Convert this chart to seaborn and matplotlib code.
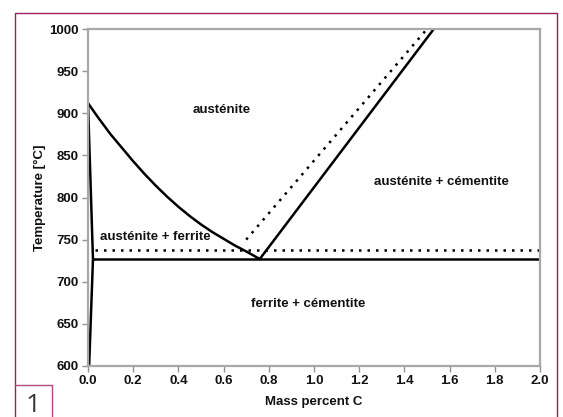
import matplotlib
matplotlib.use("Agg")
import matplotlib.pyplot as plt
from matplotlib.lines import Line2D
import pandas as pd
import seaborn as sns

# Phase boundaries of the Fe–C diagram (mass % C, temperature in °C)
ferrite_x = [0.005, 0.022, 0.0]
ferrite_T = [600, 727, 912]

a3_x = [0.0, 0.05, 0.1, 0.15, 0.2, 0.25, 0.3, 0.35, 0.4, 0.45, 0.5, 0.55, 0.6, 0.65, 0.7, 0.76]
a3_T = [912, 893, 875, 859, 843, 828, 814, 801, 789, 778, 768, 759, 751, 743, 736, 727]

acm_x = [0.76, 1.53]
acm_T = [727, 1000]

eutectoid_x = [0.022, 2.0]
eutectoid_T = [727, 727]

# Dotted reference lines
acm_dot_x = [0.70, 1.50]
acm_dot_T = [750, 1000]
a1_dot_x = [0.03, 2.0]
a1_dot_T = [738, 738]

region_labels = ["austénite", "austénite + ferrite", "austénite + cémentite", "ferrite + cémentite"]
region_x = [0.59, 0.30, 1.565, 0.975]
region_T = [904, 753, 818, 674]

x_ticks = [0.0, 0.2, 0.4, 0.6, 0.8, 1.0, 1.2, 1.4, 1.6, 1.8, 2.0]
y_ticks = [600, 650, 700, 750, 800, 850, 900, 950, 1000]

sns.set_style("white")
plt.rcParams["font.family"] = ["Liberation Sans", "DejaVu Sans"]

W, H = 563, 417
fig = plt.figure(figsize=(W / 100, H / 100), dpi=100)
ax = fig.add_axes([88 / W, 1 - 366 / H, (540 - 88) / W, (366 - 29) / H])

solid = dict(color="black", linewidth=1.8, sort=False, estimator=None)
dotted = dict(color="black", linewidth=1.8, sort=False, estimator=None)

for xs, ts in [(ferrite_x, ferrite_T), (a3_x, a3_T), (acm_x, acm_T), (eutectoid_x, eutectoid_T)]:
    df = pd.DataFrame({"C": xs, "T": ts})
    sns.lineplot(data=df, x="C", y="T", ax=ax, **solid)

for xs, ts in [(acm_dot_x, acm_dot_T), (a1_dot_x, a1_dot_T)]:
    df = pd.DataFrame({"C": xs, "T": ts})
    sns.lineplot(data=df, x="C", y="T", ax=ax, linestyle=(0, (1, 2.4)), **dotted)

for lab, x, t in zip(region_labels, region_x, region_T):
    ax.text(x, t, lab, ha="center", va="center", fontsize=9.5, fontweight="bold", color="#111111")

ax.set_xlim(0, 2.0)
ax.set_ylim(600, 1000)
ax.set_xticks(x_ticks)
ax.set_yticks(y_ticks)
ax.set_xticklabels([f"{v:.1f}" for v in x_ticks], fontsize=9.5, fontweight="bold")
ax.set_yticklabels([str(v) for v in y_ticks], fontsize=9.5, fontweight="bold")
ax.tick_params(axis="both", direction="out", length=4, width=1, color="#909090",
               labelcolor="#111111", pad=2.5, bottom=True, left=True)
for s in ax.spines.values():
    s.set_color("#a8a8a8")
    s.set_linewidth(1.6)

ax.set_xlabel("Mass percent C", fontsize=9.5, fontweight="bold", color="#111111")
ax.set_ylabel("Temperature [°C]", fontsize=9.5, fontweight="bold", color="#111111")
ax.xaxis.set_label_coords(0.5, -0.088)
ax.yaxis.set_label_coords(-0.093, 0.5)
ax.grid(False)

# Page frame around the figure and the numbered tab
frame_col = "#9c1f5c"
def px_line(xs, ys, **kw):
    fig.add_artist(Line2D([x / W for x in xs], [1 - y / H for y in ys],
                          transform=fig.transFigure, **kw))

px_line([14.5, 14.5, 557, 557], [420, 12.7, 12.7, 420], color=frame_col, linewidth=1.0)
px_line([14.5, 52.3, 52.3], [385, 385, 420], color="#b04a80", linewidth=1.0)
fig.text(33 / W, 1 - 405 / H, "1", ha="center", va="center", fontsize=19,
         color="#333333", family=["Open Sans", "DejaVu Sans"])

fig.savefig("out.png", dpi=100)
